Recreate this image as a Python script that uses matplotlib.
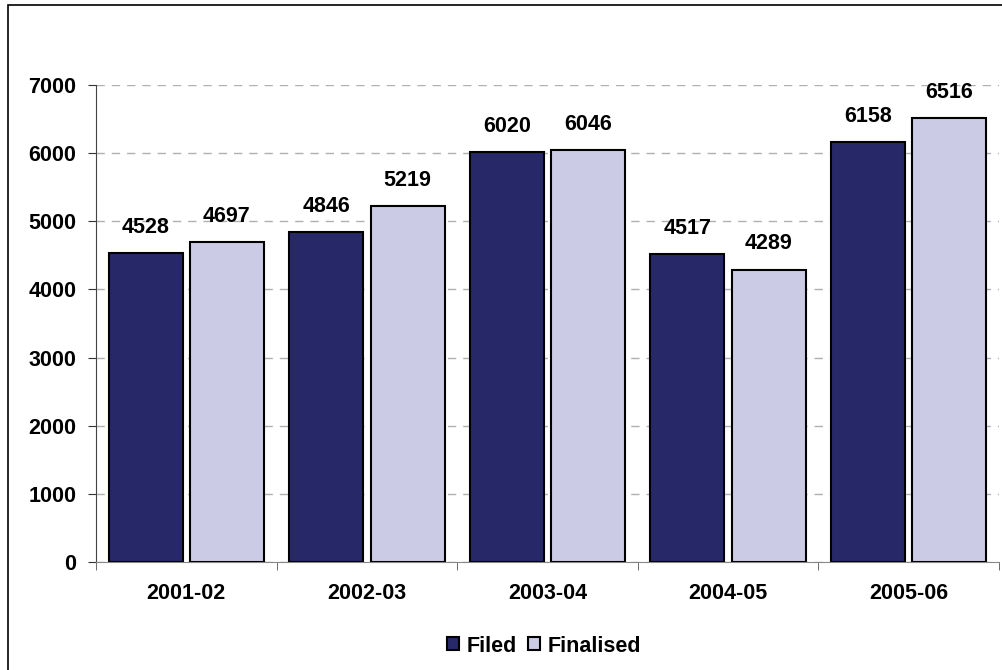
import matplotlib
matplotlib.use("Agg")
import matplotlib.pyplot as plt
from matplotlib.patches import Rectangle
from matplotlib.ticker import FixedLocator
import numpy as np

categories = ["2001-02", "2002-03", "2003-04", "2004-05", "2005-06"]
filed = [4528, 4846, 6020, 4517, 6158]
finalised = [4697, 5219, 6046, 4289, 6516]
yticks = [0, 1000, 2000, 3000, 4000, 5000, 6000, 7000]

plt.rcParams['font.family'] = ['Liberation Sans', 'DejaVu Sans']
plt.rcParams['font.weight'] = 'bold'
FS = 15.5

fig = plt.figure(figsize=(10.03, 6.70), dpi=100)
# outer frame
fig.patches.append(Rectangle((8/1003, -0.1), 1.2, 1 - 5/670 + 0.1, transform=fig.transFigure,
                             fill=False, edgecolor='black', linewidth=1.2))
ax = fig.add_axes([96/1003, (670-562)/670, (999-96)/1003, (562-85)/670])

x = np.arange(len(categories))
w = 0.41
c1, c2 = '#272868', '#CCCBE5'
b1 = ax.bar(x - 0.225, filed, w, color=c1, edgecolor='black', linewidth=1.5, label='Filed', zorder=3)
b2 = ax.bar(x + 0.225, finalised, w, color=c2, edgecolor='black', linewidth=1.5, label='Finalised', zorder=3)

for bars, vals in ((b1, filed), (b2, finalised)):
    for r, v in zip(bars, vals):
        ax.annotate(str(v), (r.get_x() + r.get_width()/2, v), xytext=(0, 11),
                    textcoords='offset points', ha='center', va='bottom',
                    fontsize=FS, fontweight='bold')

ax.set_xlim(-0.5, len(categories) - 0.5)
ax.set_ylim(0, 7000)
ax.set_yticks(yticks)
ax.set_yticklabels([str(t) for t in yticks])
ax.set_xticks(x)
ax.set_xticklabels(categories)
ax.xaxis.set_minor_locator(FixedLocator(np.arange(-0.5, len(categories), 1.0)))
ax.tick_params(axis='x', which='major', length=0, pad=15, labelsize=FS)
ax.tick_params(axis='x', which='minor', length=6, direction='out', color='#555555')
ax.tick_params(axis='y', length=6, direction='out', pad=8, labelsize=FS, color='#333333')
for lab in ax.get_xticklabels() + ax.get_yticklabels():
    lab.set_fontweight('bold')

ax.grid(axis='y', color='#b0b0b0', linestyle=(0, (6, 5)), linewidth=1.0, zorder=0)
ax.spines['top'].set_visible(False)
ax.spines['right'].set_visible(False)
ax.spines['left'].set_color('#444444')
ax.spines['bottom'].set_color('#888888')

leg = fig.legend(handles=[b1, b2], labels=['Filed', 'Finalised'], loc='center',
                 bbox_to_anchor=(544/1003, 1 - 646/670), ncol=2, frameon=False,
                 handlelength=0.56, handleheight=0.56, handletextpad=0.37, columnspacing=0.5,
                 prop={'weight': 'bold', 'size': FS})

fig.savefig('out.png', dpi=100)
